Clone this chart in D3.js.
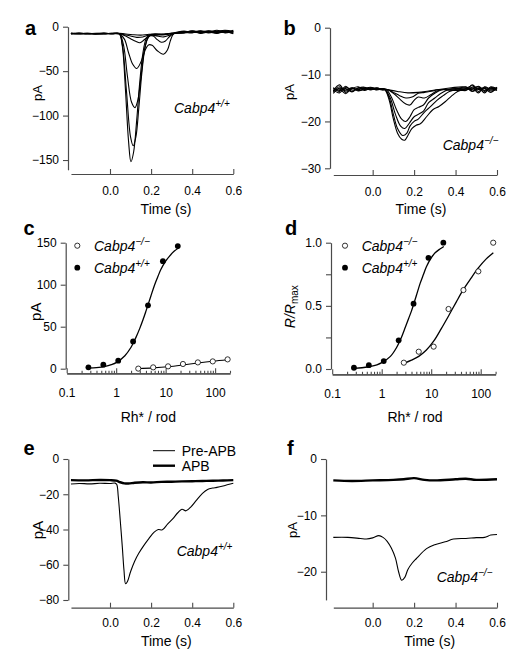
<!DOCTYPE html>
<html><head><meta charset="utf-8">
<script src="https://cdn.jsdelivr.net/npm/d3@7"></script>
<style>body{margin:0;background:#fff} svg{display:block} text{font-family:"Liberation Sans",Arial,Helvetica,sans-serif;fill:#000}</style>
</head><body><svg id="chart" width="520" height="663"></svg>
<script>
// ---------------- DATA ----------------
// Panel a: Cabp4+/+ responses (pA vs time s)
const aPreTimes = [-0.19,-0.15,-0.11,-0.07,-0.03,0.01,0.045];
const aPostTimes = [0.36,0.4,0.44,0.48,0.52,0.56,0.6];
const aPre = [
  [-7.2,-8.1,-7.6,-8.3,-7.4,-7.9,-8.0],
  [-8.0,-7.4,-8.2,-7.7,-7.2,-8.0,-7.8],
  [-7.6,-7.9,-7.3,-7.8,-8.1,-7.5,-7.7],
  [-7.9,-7.2,-8.0,-7.4,-7.8,-7.6,-8.1],
  [-7.4,-8.0,-7.7,-7.6,-7.9,-7.3,-7.9],
  [-7.7,-7.5,-7.9,-8.1,-7.5,-7.8,-7.6],
  [-8.2,-7.6,-7.4,-7.9,-7.7,-8.0,-7.5]
];
const aResp = [
  [[0.06,-22],[0.075,-70],[0.09,-128],[0.102,-152],[0.115,-141],[0.13,-105],[0.145,-62],[0.16,-30],[0.175,-14],[0.19,-9.5],[0.22,-8],[0.26,-8.5],[0.3,-7.5]],
  [[0.06,-20],[0.08,-72],[0.1,-124],[0.113,-134],[0.126,-124],[0.14,-92],[0.155,-52],[0.17,-24],[0.185,-12],[0.2,-9],[0.23,-9],[0.27,-8],[0.31,-7]],
  [[0.065,-20],[0.085,-56],[0.105,-85],[0.122,-91],[0.136,-82],[0.15,-58],[0.165,-30],[0.18,-15],[0.195,-10],[0.22,-9.5],[0.26,-9],[0.3,-7.5]],
  [[0.07,-14],[0.09,-29],[0.11,-42],[0.13,-47],[0.15,-40],[0.17,-27],[0.187,-20.5],[0.205,-21],[0.23,-27],[0.26,-31],[0.28,-26],[0.295,-15],[0.31,-8]],
  [[0.07,-10],[0.1,-13.5],[0.125,-16.5],[0.146,-18],[0.165,-15],[0.19,-10.5],[0.21,-10.5],[0.23,-14.5],[0.25,-17.5],[0.27,-16],[0.29,-11],[0.31,-8]],
  [[0.07,-9],[0.1,-10.5],[0.13,-12],[0.16,-11.5],[0.19,-9.5],[0.22,-10],[0.26,-11.5],[0.29,-9.5],[0.31,-7.5]],
  [[0.07,-8],[0.11,-9],[0.15,-9.5],[0.19,-8.5],[0.23,-8.5],[0.27,-9],[0.31,-7.5]]
];
const aPost = [
  [-6,-5.5,-6.5,-5,-6,-4.5,-6],
  [-5,-6.5,-5,-7,-5.5,-6.5,-4],
  [-7,-4.5,-7.5,-6,-7.5,-5.5,-8],
  [-6.5,-7,-4.5,-6.5,-4,-7,-5],
  [-5.5,-6,-6,-4.5,-6.5,-6,-7],
  [-6,-5,-5.5,-5.5,-5,-4,-5.5],
  [-7,-6,-7,-5.5,-7,-5,-6.5]
];

// Panel b: Cabp4-/- responses
const bPreTimes = [-0.19,-0.16,-0.13,-0.1,-0.07,-0.04,-0.01,0.02,0.045];
const bPostTimes = [0.45,0.48,0.51,0.54,0.57,0.6];
const bPre = [
  [-13.5,-12.2,-13.8,-13.0,-12.6,-13.4,-12.9,-13.0,-13.2],
  [-12.8,-13.6,-12.5,-13.6,-12.9,-12.7,-13.2,-12.9,-13.1],
  [-14.0,-12.9,-13.3,-12.8,-13.5,-13.0,-12.7,-13.1,-13.0],
  [-13.2,-13.9,-12.7,-13.3,-13.1,-12.8,-13.3,-12.8,-13.2],
  [-13.7,-12.6,-13.5,-12.9,-13.4,-13.2,-13.0,-13.3,-13.1],
  [-12.9,-13.4,-13.0,-13.7,-12.8,-13.1,-12.8,-13.0,-13.3],
  [-13.4,-13.1,-14.1,-12.9,-13.2,-12.9,-13.1,-13.2,-13.0]
];
const bResp = [
  [[0.06,-13.3],[0.08,-15.5],[0.1,-19.5],[0.12,-22.5],[0.14,-23.8],[0.155,-24],[0.17,-23],[0.19,-21.5],[0.21,-20.8],[0.23,-20.5],[0.26,-19],[0.29,-17.5],[0.32,-16.8],[0.35,-15.8],[0.38,-14.6],[0.41,-13.6]],
  [[0.06,-13.2],[0.08,-15],[0.1,-18.5],[0.12,-21.5],[0.145,-23],[0.165,-22.5],[0.18,-21],[0.2,-20],[0.22,-19.5],[0.25,-18],[0.28,-16.8],[0.31,-15.5],[0.34,-14.5],[0.37,-13.6],[0.4,-13.2]],
  [[0.06,-13.2],[0.085,-15],[0.11,-18.5],[0.135,-21],[0.155,-21.5],[0.175,-20.5],[0.2,-19],[0.22,-18.5],[0.245,-17.8],[0.27,-16],[0.3,-15],[0.33,-14],[0.36,-13.3],[0.4,-13]],
  [[0.065,-13.2],[0.09,-14.8],[0.115,-17.5],[0.14,-19.5],[0.16,-20],[0.18,-19],[0.2,-17.5],[0.22,-17],[0.245,-16.5],[0.27,-15],[0.3,-14],[0.33,-13.3],[0.38,-13.1]],
  [[0.07,-13.2],[0.1,-14],[0.13,-15.2],[0.16,-16.3],[0.18,-16.5],[0.2,-15.5],[0.22,-14.8],[0.25,-15],[0.28,-14.3],[0.31,-13.5],[0.34,-13.2],[0.39,-13.4]],
  [[0.07,-13.2],[0.1,-13.8],[0.13,-14.5],[0.16,-15],[0.19,-14.8],[0.22,-14],[0.25,-13.8],[0.29,-13.5],[0.32,-13.2],[0.38,-12.8]],
  [[0.07,-13.2],[0.12,-13.6],[0.17,-13.9],[0.22,-13.8],[0.27,-13.5],[0.32,-13.2],[0.38,-13.3]]
];
const bPost = [
  [-13.0,-12.4,-13.6,-12.7,-13.3,-12.9],
  [-12.6,-13.5,-12.8,-13.9,-12.6,-13.1],
  [-13.4,-12.2,-13.2,-13.0,-13.8,-12.7],
  [-12.9,-13.2,-12.5,-13.4,-12.9,-13.4],
  [-13.3,-12.8,-13.9,-12.6,-13.1,-12.8],
  [-12.7,-13.6,-13.0,-12.9,-13.5,-13.2],
  [-13.1,-12.9,-12.6,-13.6,-12.8,-13.0]
];

// Panels c, d: intensity-response
const intensityWT = [0.275,0.55,1.1,2.2,4.4,8.8,17.6];
const intensityKO = [2.8,5.6,11.2,22.4,44.8,89.6,179];
const pA_WT = [1.6,4.8,9.5,32.5,75.4,128,146];
const pA_KO = [0.1,1.6,2.8,5.6,7.5,8.7,11.1];
const norm_WT = [0.01,0.03,0.063,0.227,0.517,0.88,1.0];
const norm_KO = [0.05,0.137,0.177,0.475,0.625,0.773,1.0];
// fitted curves
const fitC_WT = [[0.28,0.6],[0.4,1.2],[0.6,2.7],[0.8,4.8],[1,7.2],[1.5,15.5],[2,25.5],[2.5,37],[3,48],[3.5,58.5],[4,68.5],[5,86],[6,100],[7,110],[8,118],[10,128],[12,134],[15,140],[18.5,144]];
const fitC_KO = [[2.8,0.3],[5.6,1.0],[11.2,2.3],[22.4,4.4],[44.8,6.8],[89.6,8.9],[180,10.6]];
const fitD_WT = [[0.28,0.005],[0.4,0.01],[0.6,0.02],[0.8,0.033],[1,0.05],[1.5,0.1],[2,0.17],[2.5,0.25],[3,0.33],[3.5,0.4],[4,0.46],[5,0.58],[6,0.68],[7,0.75],[8,0.81],[10,0.88],[12,0.92],[15,0.95],[18,0.97]];
const fitD_KO = [[2.8,0.045],[4,0.07],[5.6,0.1],[8,0.15],[11.2,0.22],[16,0.32],[22.4,0.42],[32,0.53],[44.8,0.63],[64,0.72],[89.6,0.8],[128,0.87],[180,0.92]];

// Panels e, f: pre-APB vs APB
const ePreApb = [[-0.19,-14.2],[-0.15,-13.9],[-0.1,-14.1],[-0.05,-13.8],[0,-13.9],[0.025,-13.7],[0.033,-14.5],[0.04,-21],[0.05,-35],[0.06,-50],[0.068,-63],[0.076,-70.8],[0.085,-69.5],[0.1,-64],[0.12,-58],[0.14,-53.5],[0.165,-49],[0.19,-45],[0.215,-41.5],[0.235,-40],[0.255,-40.2],[0.28,-37],[0.305,-34],[0.33,-30.5],[0.35,-28.5],[0.37,-29.4],[0.395,-27],[0.42,-23.5],[0.45,-19.5],[0.475,-17.3],[0.5,-16.5],[0.52,-16.1],[0.55,-15.3],[0.575,-14.5],[0.6,-13.8]];
const eApb = [[-0.19,-12],[-0.12,-12.1],[-0.05,-11.9],[0,-12],[0.03,-12.3],[0.05,-13.2],[0.07,-13.8],[0.09,-13.9],[0.12,-13.5],[0.16,-13.2],[0.2,-13.3],[0.25,-13],[0.3,-12.9],[0.35,-12.7],[0.4,-12.6],[0.45,-12.5],[0.5,-12.3],[0.55,-12.2],[0.6,-12]];
const fPreApb = [[-0.19,-13.9],[-0.12,-13.9],[-0.06,-14.1],[-0.03,-14.2],[0,-14],[0.03,-13.6],[0.05,-13.9],[0.07,-14.6],[0.09,-15.8],[0.11,-17.6],[0.125,-20],[0.14,-21.5],[0.155,-21],[0.17,-19.6],[0.19,-18.5],[0.21,-17.7],[0.26,-15.9],[0.3,-15.2],[0.35,-14.7],[0.39,-14.2],[0.45,-14.1],[0.5,-13.95],[0.54,-13.9],[0.57,-13.5],[0.6,-13.4]];
const fApb = [[-0.19,-3.8],[-0.1,-3.9],[0,-3.8],[0.1,-3.7],[0.15,-3.6],[0.2,-3.4],[0.25,-3.7],[0.3,-3.8],[0.4,-3.6],[0.45,-3.5],[0.5,-3.7],[0.6,-3.6]];

// Tick values / labels
const timeTicks = [0, 0.2, 0.4, 0.6];
const yTicksA = [0, -50, -100, -150];
const yTicksB = [0, -10, -20, -30];
const yTicksC = [0, 50, 100, 150];
const yTicksD = [0, 0.25, 0.5, 0.75, 1];
const yLabelsD = {0:"0.0", 0.5:"0.5", 1:"1.0"};
const yTicksE = [0, -20, -40, -60, -80];
const yTicksF = [0, -10, -20];
const logTicks = [0.1, 1, 10, 100];
const logLabels = ["0.1", "1", "10", "100"];

// ---------------- DRAWING ----------------
const svg = d3.select("#chart");
const AX = "#4a4a4a";

function styleAxis(g){
  g.selectAll("path.domain").attr("stroke", AX).attr("stroke-width", 1.2);
  g.selectAll(".tick line").attr("stroke", AX).attr("stroke-width", 1.1);
  g.selectAll(".tick text").attr("font-size", 12).attr("fill", "#000")
    .attr("font-family", '"Liberation Sans",Arial,sans-serif');
}

function yAxis(y, xpos, ticks, fmt){
  const g = svg.append("g").attr("transform", `translate(${xpos},0)`)
    .call(d3.axisLeft(y).tickValues(ticks).tickSize(5).tickPadding(4).tickSizeOuter(0).tickFormat(fmt));
  styleAxis(g);
}
function timeAxis(x, ypos, pad){
  const g = svg.append("g").attr("transform", `translate(0,${ypos})`)
    .call(d3.axisBottom(x).tickValues(timeTicks).tickSizeInner(-5).tickSizeOuter(0).tickPadding(pad).tickFormat(d3.format(".1f")));
  styleAxis(g);
}
function logAxis(x, ypos, pad){
  const minors = x.ticks().filter(v => !logTicks.some(m => Math.abs(m - v) < 1e-9));
  const g2 = svg.append("g").attr("transform", `translate(0,${ypos})`)
    .call(d3.axisBottom(x).tickValues(minors).tickSizeInner(-2.5).tickSizeOuter(0).tickFormat(""));
  styleAxis(g2);
  const g = svg.append("g").attr("transform", `translate(0,${ypos})`)
    .call(d3.axisBottom(x).tickValues(logTicks).tickSizeInner(-5).tickSizeOuter(0).tickPadding(pad)
      .tickFormat((d,i) => logLabels[i]));
  styleAxis(g);
}
function text(x, y, str, size, opts={}){
  const t = svg.append("text").attr("x", x).attr("y", y).attr("font-size", size).text(str);
  if (opts.bold) t.attr("font-weight", "bold");
  if (opts.anchor) t.attr("text-anchor", opts.anchor);
  if (opts.rotate) t.attr("transform", `rotate(-90,${x},${y})`);
  return t;
}
function cabp(x, y, sup, size=14){
  const t = svg.append("text").attr("x", x).attr("y", y).attr("font-size", size);
  t.append("tspan").attr("font-style", "italic").text("Cabp4");
  t.append("tspan").attr("font-size", 10).attr("dy", -6).attr("font-style", "italic").text(sup);
}
function zip(times, vals){ return times.map((t,i) => [t, vals[i]]); }

const traceLine = (x, y) => d3.line().x(d => x(d[0])).y(d => y(d[1])).curve(d3.curveCatmullRom.alpha(0.5));

// ---- Panel a ----
{
  const x = d3.scaleLinear().domain([-0.19, 0.6]).range([70.95, 233.3]);
  const y = d3.scaleLinear().domain([-161, 0]).range([169.8, 26.7]);
  yAxis(y, 68, yTicksA, d3.format("d"));
  timeAxis(x, 174, 12.5);
  const line = traceLine(x, y);
  aResp.forEach((r, i) => {
    const pts = zip(aPreTimes, aPre[i]).concat(r, zip(aPostTimes, aPost[i]));
    svg.append("path").attr("d", line(pts)).attr("fill", "none").attr("stroke", "#000").attr("stroke-width", 1.1);
  });
  text(25, 35, "a", 20, {bold: true});
  text(37, 93, "pA", 13, {rotate: true, anchor: "middle"}).attr("dy", "0.35em");
  text(166, 213.5, "Time (s)", 14, {anchor: "middle"});
  cabp(174, 113, "+/+");
}
// ---- Panel b ----
{
  const x = d3.scaleLinear().domain([-0.19, 0.6]).range([333.3, 497]);
  const y = d3.scaleLinear().domain([-30, 0]).range([168.3, 27.7]);
  yAxis(y, 330, yTicksB, d3.format("d"));
  timeAxis(x, 175, 12.5);
  const line = traceLine(x, y);
  bResp.forEach((r, i) => {
    const pts = zip(bPreTimes, bPre[i]).concat(r, zip(bPostTimes, bPost[i]));
    svg.append("path").attr("d", line(pts)).attr("fill", "none").attr("stroke", "#000").attr("stroke-width", 1.1);
  });
  text(283.5, 35, "b", 20, {bold: true});
  text(289, 92, "pA", 13, {rotate: true, anchor: "middle"}).attr("dy", "0.35em");
  text(421, 213.5, "Time (s)", 14, {anchor: "middle"});
  cabp(442.7, 149.5, "−/−");
}
// ---- Panel c ----
{
  const x = d3.scaleLog().domain([0.1, 200]).range([66.7, 230]);
  const y = d3.scaleLinear().domain([0, 150]).range([368.7, 242.7]);
  yAxis(y, 65.7, yTicksC, d3.format("d"));
  logAxis(x, 373.3, 15.5);
  const line = d3.line().x(d => x(d[0])).y(d => y(d[1])).curve(d3.curveCatmullRom.alpha(0.5));
  svg.append("path").attr("d", line(fitC_WT)).attr("fill", "none").attr("stroke", "#000").attr("stroke-width", 1.3);
  svg.append("path").attr("d", line(fitC_KO)).attr("fill", "none").attr("stroke", "#000").attr("stroke-width", 1.1);
  svg.selectAll(null).data(intensityKO).enter().append("circle")
    .attr("cx", d => x(d)).attr("cy", (d,i) => y(pA_KO[i])).attr("r", 2.6)
    .attr("fill", "#fff").attr("stroke", "#000").attr("stroke-width", 0.8);
  svg.selectAll(null).data(intensityWT).enter().append("circle")
    .attr("cx", d => x(d)).attr("cy", (d,i) => y(pA_WT[i])).attr("r", 2.9).attr("fill", "#000");
  svg.append("circle").attr("cx", 77.3).attr("cy", 245.7).attr("r", 2.6).attr("fill", "#fff").attr("stroke", "#000").attr("stroke-width", 0.8);
  svg.append("circle").attr("cx", 77.3).attr("cy", 267.7).attr("r", 2.9).attr("fill", "#000");
  cabp(94, 250.8, "−/−");
  cabp(94, 272.8, "+/+");
  text(23.5, 234.5, "c", 20, {bold: true});
  text(36, 311.7, "pA", 15, {rotate: true, anchor: "middle"}).attr("dy", "0.35em");
  text(148.3, 421.5, "Rh* / rod", 14, {anchor: "middle"});
}
// ---- Panel d ----
{
  const x = d3.scaleLog().domain([0.1, 200]).range([332.2, 495.6]);
  const y = d3.scaleLinear().domain([0, 1]).range([369, 242.7]);
  yAxis(y, 331, yTicksD, d => yLabelsD[d] || "");
  logAxis(x, 374.3, 15.5);
  const line = d3.line().x(d => x(d[0])).y(d => y(d[1])).curve(d3.curveCatmullRom.alpha(0.5));
  svg.append("path").attr("d", line(fitD_WT)).attr("fill", "none").attr("stroke", "#000").attr("stroke-width", 1.3);
  svg.append("path").attr("d", line(fitD_KO)).attr("fill", "none").attr("stroke", "#000").attr("stroke-width", 1.3);
  svg.selectAll(null).data(intensityKO).enter().append("circle")
    .attr("cx", d => x(d)).attr("cy", (d,i) => y(norm_KO[i])).attr("r", 2.6)
    .attr("fill", "#fff").attr("stroke", "#000").attr("stroke-width", 0.8);
  svg.selectAll(null).data(intensityWT).enter().append("circle")
    .attr("cx", d => x(d)).attr("cy", (d,i) => y(norm_WT[i])).attr("r", 2.9).attr("fill", "#000");
  svg.append("circle").attr("cx", 345).attr("cy", 245.7).attr("r", 2.6).attr("fill", "#fff").attr("stroke", "#000").attr("stroke-width", 0.8);
  svg.append("circle").attr("cx", 345).attr("cy", 267.7).attr("r", 2.9).attr("fill", "#000");
  cabp(361.7, 250.8, "−/−");
  cabp(361.7, 272.8, "+/+");
  text(285, 235, "d", 20, {bold: true});
  const t = svg.append("text").attr("x", 290).attr("y", 306.7).attr("font-size", 14)
    .attr("text-anchor", "middle").attr("dy", "0.35em").attr("transform", "rotate(-90,290,306.7)");
  t.append("tspan").attr("font-style", "italic").text("R/R");
  t.append("tspan").attr("font-size", 10).attr("dy", 3).text("max");
  text(415, 421.5, "Rh* / rod", 14, {anchor: "middle"});
}
// ---- Panel e ----
{
  const x = d3.scaleLinear().domain([-0.19, 0.6]).range([70.95, 233.3]);
  const y = d3.scaleLinear().domain([-80, 0]).range([600, 459]);
  yAxis(y, 68.3, yTicksE, d3.format("d"));
  timeAxis(x, 607.7, 10.7);
  const line = traceLine(x, y);
  svg.append("path").attr("d", line(ePreApb)).attr("fill", "none").attr("stroke", "#000").attr("stroke-width", 1.1);
  svg.append("path").attr("d", line(eApb)).attr("fill", "none").attr("stroke", "#000").attr("stroke-width", 2.4);
  svg.append("line").attr("x1", 153).attr("x2", 175).attr("y1", 450.7).attr("y2", 450.7).attr("stroke", "#000").attr("stroke-width", 1);
  svg.append("line").attr("x1", 153).attr("x2", 175).attr("y1", 465.7).attr("y2", 465.7).attr("stroke", "#000").attr("stroke-width", 2.4);
  text(181.7, 455.7, "Pre-APB", 14);
  text(181.7, 470.7, "APB", 14);
  text(23.5, 455, "e", 20, {bold: true});
  text(38, 530, "pA", 15, {rotate: true, anchor: "middle"}).attr("dy", "0.35em");
  text(166.3, 645.5, "Time (s)", 14, {anchor: "middle"});
  cabp(176.7, 555.5, "+/+");
}
// ---- Panel f ----
{
  const x = d3.scaleLinear().domain([-0.19, 0.6]).range([333.3, 497]);
  const y = d3.scaleLinear().domain([-25, 0]).range([599.9, 459]);
  yAxis(y, 326, yTicksF, d3.format("d"));
  timeAxis(x, 607.7, 10.7);
  const line = traceLine(x, y);
  svg.append("path").attr("d", line(fPreApb)).attr("fill", "none").attr("stroke", "#000").attr("stroke-width", 1.1);
  svg.append("path").attr("d", line(fApb)).attr("fill", "none").attr("stroke", "#000").attr("stroke-width", 2.4);
  text(287, 455, "f", 20, {bold: true});
  text(292, 530, "pA", 13, {rotate: true, anchor: "middle"}).attr("dy", "0.35em");
  text(429.7, 645.5, "Time (s)", 14, {anchor: "middle"});
  cabp(436.7, 582, "−/−");
}
</script></body></html>
